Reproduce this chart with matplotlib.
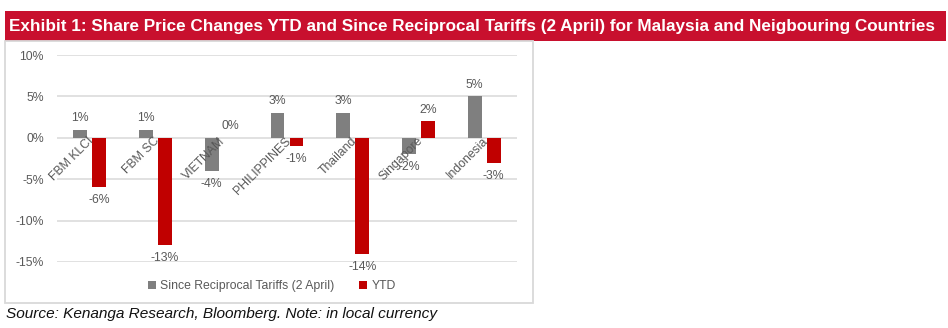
import matplotlib
matplotlib.use("Agg")
import matplotlib.pyplot as plt
from matplotlib.patches import Rectangle
import numpy as np

plt.rcParams['font.family'] = ['Liberation Sans', 'DejaVu Sans']

categories = ["FBM KLCI", "FBM SC", "VIETNAM", "PHILIPPINES", "Thailand", "Singapore", "Indonesia"]
since_tariffs = [1, 1, -4, 3, 3, -2, 5]
ytd = [-6, -13, 0, -1, -14, 2, -3]
series_names = ["Since Reciprocal Tariffs (2 April)", "YTD"]
yticks = [-15, -10, -5, 0, 5, 10]

W, H = 948, 328
fig = plt.figure(figsize=(W / 100, H / 100), dpi=100)
fig.patch.set_facecolor("white")

def fx(px):
    return px / W

def fy(py):
    return 1 - py / H

# title banner
fig.patches.append(Rectangle((fx(5), fy(41)), fx(946) - fx(5), fy(11) - fy(41),
                             transform=fig.transFigure, facecolor="#c8102e", edgecolor="none", zorder=0))
fig.text(fx(9), fy(27), "Exhibit 1: Share Price Changes YTD and Since Reciprocal Tariffs (2 April) for Malaysia and Neigbouring Countries",
         color="white", fontsize=12.35, fontweight="bold", va="center", ha="left")

# chart box
fig.patches.append(Rectangle((fx(5), fy(303)), fx(533) - fx(5), fy(41) - fy(303),
                             transform=fig.transFigure, facecolor="none", edgecolor="#d9d9d9", linewidth=1.3, zorder=0))

ax = fig.add_axes([fx(57), fy(262), fx(517) - fx(57), fy(55) - fy(262)])
ax.set_facecolor("none")
x = np.arange(len(categories))
w = 0.21
off = 0.145
gray = "#7f7f7f"
red = "#c00000"
ax.bar(x - off, since_tariffs, width=w, color=gray, zorder=3, label=series_names[0])
ax.bar(x + off, ytd, width=w, color=red, zorder=3, label=series_names[1])
ax.set_ylim(-15, 10)
ax.set_xlim(-0.5, len(categories) - 0.5)
ax.set_yticks(yticks)
ax.set_yticklabels([f"{v}%" for v in yticks], color="#595959", fontsize=8.8)
ax.yaxis.grid(True, color="#d9d9d9", linewidth=1.1)
ax.set_axisbelow(True)
ax.tick_params(axis="y", length=0, pad=9.5)
ax.tick_params(axis="x", length=0)
ax.set_xticks([])
for s in ax.spines.values():
    s.set_visible(False)

lbl_col = "#595959"
for xi, v in zip(x - off, since_tariffs):
    ax.annotate(f"{v}%", (xi, v), xytext=(0, 4 if v >= 0 else -5), textcoords="offset points",
                ha="center", va="bottom" if v >= 0 else "top", fontsize=8.8, color=lbl_col)
for xi, v in zip(x + off, ytd):
    ax.annotate(f"{v}%", (xi, v), xytext=(0, 4 if v >= 0 else -5), textcoords="offset points",
                ha="center", va="bottom" if v >= 0 else "top", fontsize=8.8, color=lbl_col)

for xi, c in zip(x, categories):
    ax.annotate(c, (xi, 0), xytext=(-1.5, 2), textcoords="offset points", rotation=45,
                rotation_mode="anchor", ha="right", va="top", fontsize=8.8, color=lbl_col, zorder=4)

leg = fig.legend(loc="center", bbox_to_anchor=(fx(272), fy(286)), ncol=2, frameon=False,
                 fontsize=8.8, handlelength=0.65, handleheight=0.65, columnspacing=2.0, handletextpad=0.4)
for t in leg.get_texts():
    t.set_color(lbl_col)

fig.text(fx(6), fy(314), "Source: Kenanga Research, Bloomberg. Note: in local currency",
         fontsize=11.05, fontstyle="italic", color="#111111", va="center", ha="left")

fig.savefig("out.png", dpi=100)
